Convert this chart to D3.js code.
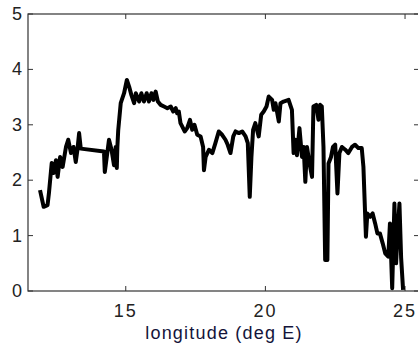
<!DOCTYPE html>
<html>
<head>
    <script src="https://cdnjs.cloudflare.com/ajax/libs/d3/7.8.5/d3.min.js"></script>
    <style>
        body { margin: 0; background: #fff; }
        svg { display: block; font-family: "Liberation Sans", Arial, sans-serif; }
    </style>
</head>
<body>
    <div id="chart"></div>
    <script>
        // longitude (deg E) of each sample
        const lon = [11.93, 12.06, 12.2, 12.25, 12.35, 12.42, 12.5, 12.56, 12.65, 12.74,
            12.86, 12.94, 13.04, 13.13, 13.21, 13.27, 13.33, 13.39, 14.22, 14.25,
            14.32, 14.4, 14.49, 14.58, 14.64, 14.68, 14.7, 14.73, 14.82, 14.94,
            15.04, 15.12, 15.2, 15.3, 15.36, 15.48, 15.56, 15.65, 15.75, 15.83,
            15.92, 15.99, 16.07, 16.15, 16.25, 16.37, 16.49, 16.61, 16.7, 16.79,
            16.84, 16.9, 16.96, 17.02, 17.11, 17.2, 17.3, 17.38, 17.46, 17.56,
            17.68, 17.77, 17.8, 17.86, 17.98, 18.1, 18.21, 18.33, 18.45, 18.57,
            18.65, 18.75, 18.85, 18.93, 19.05, 19.17, 19.29, 19.37, 19.44, 19.5,
            19.56, 19.64, 19.76, 19.85, 19.94, 20.04, 20.12, 20.24, 20.3, 20.36,
            20.48, 20.54, 20.65, 20.83, 20.95, 21.01, 21.07, 21.13, 21.22, 21.31,
            21.37, 21.43, 21.49, 21.58, 21.67, 21.72, 21.82, 21.9, 21.96, 22.02,
            22.08, 22.14, 22.22, 22.26, 22.35, 22.42, 22.5, 22.58, 22.65, 22.74,
            22.86, 22.97, 23.1, 23.21, 23.33, 23.45, 23.51, 23.6, 23.65, 23.75,
            23.84, 23.93, 24.01, 24.1, 24.2, 24.29, 24.4, 24.46, 24.54, 24.62,
            24.68, 24.74, 24.8, 24.86, 24.93];
        // measured value at each sample
        const val = [1.82, 1.52, 1.55, 1.77, 2.31, 2.13, 2.36, 2.06, 2.42, 2.24,
            2.6, 2.73, 2.49, 2.6, 2.33, 2.55, 2.85, 2.57, 2.52, 2.15,
            2.42, 2.73, 2.55, 2.27, 2.6, 2.22, 2.6, 2.9, 3.39, 3.57,
            3.81, 3.69, 3.54, 3.39, 3.57, 3.42, 3.57, 3.42, 3.57, 3.42,
            3.57, 3.45, 3.6, 3.42, 3.36, 3.33, 3.3, 3.33, 3.24, 3.3,
            3.21, 3.24, 3.03, 2.97, 2.88, 2.94, 3.09, 2.91, 3.0, 2.82,
            2.79, 2.6, 2.18, 2.42, 2.55, 2.49, 2.67, 2.88, 2.82, 2.73,
            2.64, 2.49, 2.79, 2.88, 2.85, 2.88, 2.79, 2.67, 1.7, 2.42,
            2.91, 3.03, 2.79, 3.18, 3.24, 3.33, 3.51, 3.45, 3.27, 3.39,
            3.06, 3.39, 3.42, 3.45, 3.27, 2.49, 2.73, 2.45, 2.94, 2.42,
            2.6, 1.97, 2.6, 2.3, 2.06, 3.33, 3.36, 3.09, 3.36, 3.33,
            2.6, 0.56, 0.56, 2.3, 2.42, 2.6, 2.64, 1.76, 2.49, 2.6,
            2.55, 2.49, 2.6, 2.64, 2.58, 2.58, 2.24, 0.98, 1.4, 1.34,
            1.4, 1.22, 1.04, 1.04, 0.86, 0.68, 0.62, 1.22, 0.05, 1.58,
            0.5, 1.1, 1.58, 0.6, 0.02];
        const xTicks = [15, 20, 25];
        const yTicks = [0, 1, 2, 3, 4, 5];

        const W = 418, H = 346;
        const margin = {top: 14, left: 28, bottom: 55};
        const x0 = margin.left, x1 = 419;
        const y0 = H - margin.bottom, y1 = margin.top;

        const svg = d3.select("#chart").append("svg")
            .attr("width", W)
            .attr("height", H);

        const x = d3.scaleLinear().domain([11.5, 25.5]).range([x0, x1]);
        const y = d3.scaleLinear().domain([0, 5]).range([y0, y1]);

        const tickLen = 5;
        const axisColor = "#333";

        // frame
        svg.append("rect")
            .attr("x", x0).attr("y", y1)
            .attr("width", x1 - x0).attr("height", y0 - y1)
            .attr("fill", "none")
            .attr("stroke", axisColor)
            .attr("stroke-width", 1.2);

        // inward ticks on all four sides
        xTicks.forEach(t => {
            svg.append("line").attr("x1", x(t)).attr("x2", x(t))
                .attr("y1", y0).attr("y2", y0 - tickLen)
                .attr("stroke", axisColor);
            svg.append("line").attr("x1", x(t)).attr("x2", x(t))
                .attr("y1", y1).attr("y2", y1 + tickLen)
                .attr("stroke", axisColor);
            svg.append("text")
                .attr("x", x(t)).attr("y", y0 + 26)
                .attr("text-anchor", "middle")
                .attr("font-size", 18)
                .attr("letter-spacing", 2)
                .attr("fill", "#222")
                .text(t);
        });
        yTicks.forEach(t => {
            svg.append("line").attr("x1", x0).attr("x2", x0 + tickLen)
                .attr("y1", y(t)).attr("y2", y(t))
                .attr("stroke", axisColor);
            svg.append("line").attr("x1", x1).attr("x2", x1 - tickLen)
                .attr("y1", y(t)).attr("y2", y(t))
                .attr("stroke", axisColor);
            svg.append("text")
                .attr("x", 22).attr("y", y(t) + 6)
                .attr("text-anchor", "end")
                .attr("font-size", 18)
                .attr("fill", "#222")
                .text(t);
        });

        // x axis label
        svg.append("text")
            .attr("x", 224).attr("y", 339)
            .attr("text-anchor", "middle")
            .attr("font-size", 18)
            .attr("letter-spacing", 1.2)
            .attr("fill", "#14143a")
            .text("longitude (deg E)");

        // data line
        const pts = lon.map((d, i) => [d, val[i]]);
        svg.append("path")
            .datum(pts)
            .attr("fill", "none")
            .attr("stroke", "#000")
            .attr("stroke-width", 4)
            .attr("stroke-linejoin", "round")
            .attr("d", d3.line().x(d => x(d[0])).y(d => y(d[1])));
    </script>
</body>
</html>
